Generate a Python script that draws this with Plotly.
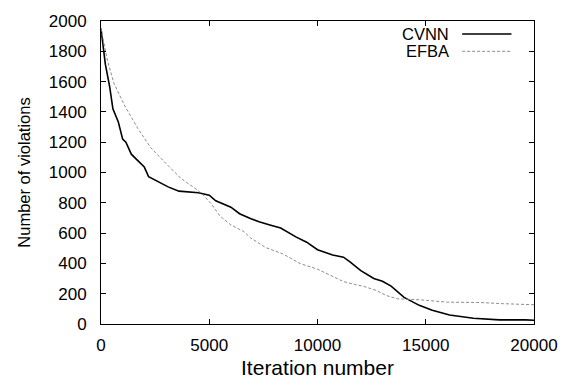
import plotly.graph_objects as go

# CVNN series (iteration, violations)
cvnn_x = [0, 100, 200, 400, 550, 800, 1000, 1150, 1250, 1400, 1700, 2000, 2200, 2600,
          3100, 3600, 4000, 4500, 5000, 5300, 6000, 6400, 6900, 7300, 7800, 8300, 9000,
          9500, 10000, 10700, 11200, 11500, 12000, 12600, 13000, 13400, 14000, 14700,
          15300, 16100, 17200, 18400, 19600, 20000]
cvnn_y = [1950, 1810, 1715, 1567, 1420, 1333, 1220, 1200, 1165, 1121, 1078, 1036, 972, 941,
          905, 877, 872, 866, 850, 813, 771, 728, 696, 675, 654, 633, 575,
          540, 490, 455, 441, 410, 352, 300, 282, 250, 176, 123,
          91, 59, 38, 27, 27, 25]

# EFBA series
efba_x = [0, 300, 600, 1100, 1700, 2300, 3000, 3700, 4300, 4700, 5100, 5500, 6000, 6600,
          6900, 7600, 8400, 9200, 10000, 10400, 10700, 11200, 11800, 12100, 12700, 13200,
          13700, 14700, 16000, 17500, 18600, 20000]
efba_y = [1950, 1737, 1588, 1439, 1291, 1163, 1060, 960, 900, 855, 792, 712, 654, 610,
          569, 505, 463, 399, 362, 336, 314, 280, 258, 250, 222, 187,
          166, 160, 144, 142, 134, 127]

series_names = ["CVNN", "EFBA"]
x_ticks = [0, 5000, 10000, 15000, 20000]
y_ticks = list(range(0, 2001, 200))

FONT = "Liberation Sans, Arial, sans-serif"

fig = go.Figure()
fig.add_trace(go.Scatter(x=cvnn_x, y=cvnn_y, mode="lines", name=series_names[0],
                         line=dict(color="black", width=1.6), showlegend=False))
fig.add_trace(go.Scatter(x=efba_x, y=efba_y, mode="lines", name=series_names[1],
                         line=dict(color="#8c8c8c", width=1, dash="3px,2px"), showlegend=False))

axis_common = dict(showline=True, linecolor="black", linewidth=1, mirror="allticks",
                   ticks="inside", ticklen=5, tickcolor="black", showgrid=False,
                   zeroline=False, tickfont=dict(family=FONT, size=17, color="black"))

fig.update_xaxes(range=[0, 20000], tickvals=x_ticks, ticktext=[str(v) for v in x_ticks],
                 ticklabelstandoff=6,
                 title=dict(text="Iteration number", font=dict(family=FONT, size=21, color="black"),
                            standoff=5),
                 **axis_common)
fig.update_yaxes(range=[0, 2000], tickvals=y_ticks, ticktext=[str(v) for v in y_ticks],
                 ticklabelstandoff=10,
                 title=dict(text="Number of violations", font=dict(family=FONT, size=16.5, color="black"),
                            standoff=13),
                 **axis_common)

# gnuplot-style key: label on left, line sample on right
legend_y = [0.957, 0.900]
styles = [dict(color="black", width=1.6), dict(color="#8c8c8c", width=1, dash="3px,2px")]
for name, ly, st in zip(series_names, legend_y, styles):
    fig.add_annotation(x=0.806, y=ly, xref="paper", yref="paper", text=name, showarrow=False,
                       xanchor="right", yanchor="middle", borderpad=0,
                       font=dict(family=FONT, size=16.5, color="black"))
    fig.add_shape(type="line", xref="paper", yref="paper", x0=0.834, x1=0.948, y0=ly, y1=ly,
                  line=st)

fig.update_layout(width=576, height=387, margin=dict(l=101, r=42, t=12, b=61),
                  plot_bgcolor="white", paper_bgcolor="white",
                  font=dict(family=FONT, size=17, color="black"))

fig.write_html("out.html", config={"displayModeBar": False},
               post_script="document.body.style.margin='0';")
